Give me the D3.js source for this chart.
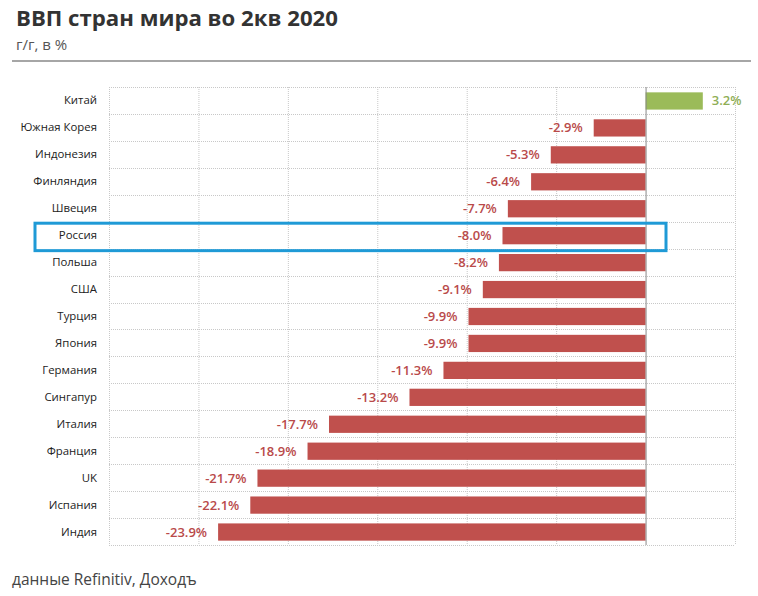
<!DOCTYPE html>
<html><head><meta charset="utf-8">
<script src="https://cdn.jsdelivr.net/npm/d3@7"></script>
<style>body{margin:0;background:#fff;}svg{display:block;font-family:"Open Sans","Noto Sans",sans-serif;}</style>
</head><body>
<svg id="c" width="758" height="596"></svg>
<script>
const countries = ["Китай","Южная Корея","Индонезия","Финляндия","Швеция","Россия","Польша","США","Турция","Япония","Германия","Сингапур","Италия","Франция","UK","Испания","Индия"];
const values = [3.2,-2.9,-5.3,-6.4,-7.7,-8.0,-8.2,-9.1,-9.9,-9.9,-11.3,-13.2,-17.7,-18.9,-21.7,-22.1,-23.9];
const xTicks = [-30,-25,-20,-15,-10,-5,0,5];
const highlight = "Россия";

const svg = d3.select("#c");
const x = d3.scaleLinear().domain([-30,5]).range([109,735]);
const y = d3.scaleBand().domain(countries).range([87.5,545.5]).paddingInner(0.36).paddingOuter(0.18);
const yRow = d3.scaleBand().domain(countries).range([87,545]);

// title
svg.append("text").attr("x",16).attr("y",26).attr("font-size",22.2).attr("font-weight",700).attr("fill","#333").text("ВВП стран мира во 2кв 2020");
svg.append("text").attr("x",16).attr("y",50).attr("font-size",15).attr("fill","#555").text("г/г, в %");
svg.append("line").attr("x1",12).attr("x2",751).attr("y1",61).attr("y2",61).attr("stroke","#a6a6a6").attr("stroke-width",2);

// grid
const g = svg.append("g");
g.selectAll("line.v").data(xTicks.filter(d=>d!==0)).join("line")
  .attr("x1",d=>x(d)+0.5).attr("x2",d=>x(d)+0.5).attr("y1",87).attr("y2",545)
  .attr("stroke","#c8c8c8").attr("stroke-dasharray","1,1").attr("stroke-width",1);
const hLines = countries.map(c=>yRow(c)).concat([545]);
g.selectAll("line.h").data(hLines).join("line")
  .attr("x1",109).attr("x2",735).attr("y1",d=>Math.round(d)+0.5).attr("y2",d=>Math.round(d)+0.5)
  .attr("stroke","#c8c8c8").attr("stroke-dasharray","1,1").attr("stroke-width",1);

// bars
svg.selectAll("rect.bar").data(countries).join("rect")
  .attr("x",(d,i)=>x(Math.min(0,values[i])))
  .attr("width",(d,i)=>Math.abs(x(values[i])-x(0)))
  .attr("y",d=>y(d)).attr("height",y.bandwidth())
  .attr("fill",(d,i)=>values[i]>=0?"#9bbb59":"#c0504d");

// zero axis
svg.append("line").attr("x1",x(0)+0.5).attr("x2",x(0)+0.5).attr("y1",87).attr("y2",545).attr("stroke","#888").attr("stroke-width",1);

// value labels
svg.selectAll("text.val").data(countries).join("text")
  .attr("x",(d,i)=>values[i]>=0?x(values[i])+9:x(values[i])-11)
  .attr("y",d=>yRow(d)+yRow.bandwidth()/2+5)
  .attr("text-anchor",(d,i)=>values[i]>=0?"start":"end")
  .attr("font-size",13).attr("font-weight",600)
  .attr("fill",(d,i)=>values[i]>=0?"#8fae55":"#b94a4a")
  .text((d,i)=>values[i].toFixed(1)+"%");

// category labels
svg.selectAll("text.cat").data(countries).join("text")
  .attr("x",97).attr("y",d=>yRow(d)+yRow.bandwidth()/2+4)
  .attr("text-anchor","end").attr("font-size",11.4).attr("fill","#222")
  .text(d=>d);

// highlight box
svg.append("rect").attr("x",35).attr("y",yRow(highlight)+1.5).attr("width",631).attr("height",yRow.bandwidth()+0.5)
  .attr("fill","none").attr("stroke","#1f9ad6").attr("stroke-width",3);

// footer
svg.append("text").attr("x",12).attr("y",585).attr("font-size",15.5).attr("fill","#444").text("данные Refinitiv, Доходъ");
</script>
</body></html>
